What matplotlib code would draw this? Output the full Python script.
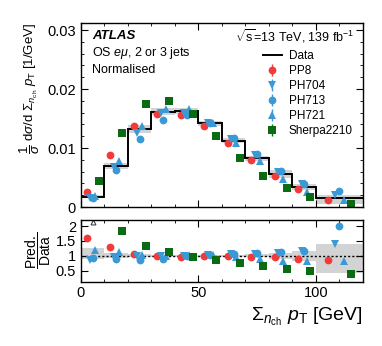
import numpy as np
import matplotlib
matplotlib.use("Agg")
import matplotlib.pyplot as plt
from matplotlib.ticker import MultipleLocator
from matplotlib.lines import Line2D

plt.rcParams['font.family'] = ['Liberation Sans', 'DejaVu Sans']
plt.rcParams['mathtext.fontset'] = 'custom'
plt.rcParams['mathtext.rm'] = 'Liberation Sans'
plt.rcParams['mathtext.it'] = 'Liberation Sans:italic'

# bin edges [GeV]
edges = np.array([0, 10, 20, 30, 40, 50, 60, 70, 80, 90, 100, 120])

# normalised cross-section, data
data = [0.00162, 0.00695, 0.01317, 0.01618, 0.01627, 0.01418, 0.01124,
        0.00825, 0.00567, 0.00342, 0.00145]
# relative uncertainty band (up, down)
band_up = [0.25, 0.08, 0.05, 0.04, 0.03, 0.03, 0.04, 0.05, 0.10, 0.15, 0.40]
band_dn = [0.10, 0.07, 0.05, 0.04, 0.03, 0.03, 0.04, 0.05, 0.12, 0.17, 0.59]

# predictions
pp8 = [0.00246, 0.0089, 0.01378, 0.01585, 0.0156, 0.01373, 0.0109,
       0.00797, 0.00525, 0.00305, 0.00119]
ph704 = [0.00147, 0.00672, 0.0126, 0.0160, 0.01588, 0.01418, 0.01147,
         0.0088, 0.0060, 0.00384, 0.00203]
ph713 = [0.0015, 0.00627, 0.01147, 0.01475, 0.0156, 0.0143, 0.01164,
         0.0090, 0.0061, 0.0039, 0.00277]
ph721 = [0.00183, 0.0078, 0.01373, 0.01655, 0.01665, 0.01429, 0.0109,
         0.0078, 0.0047, 0.0026, 0.00119]
sherpa = [0.00443, 0.0126, 0.0174, 0.0179, 0.0157, 0.0121, 0.00836,
          0.0053, 0.00316, 0.00164, 0.0005]

# ratios pred / data
pp8_r = [1.60, 1.28, 1.06, 0.99, 0.97, 0.98, 0.99, 0.97, 0.94, 0.90, 0.84]
ph704_r = [0.87, 0.95, 0.98, 0.98, 1.00, 1.01, 1.05, 1.07, 1.10, 1.15, 1.40]
ph713_r = [0.92, 0.90, 0.87, 0.90, 1.00, 1.01, 1.06, 1.08, 1.11, 1.17, 2.00]
ph721_r = [1.20, 1.12, 1.02, 1.00, 1.02, 1.01, 0.96, 0.89, 0.83, 0.81, 0.81]
sherpa_r = [np.nan, 1.83, 1.34, 1.11, 0.97, 0.86, 0.75, 0.64, 0.56, 0.49, 0.39]
# off-scale indicator
offscale_x = [5.0]
offscale_y = [2.12]

samples = [
    ("PP8", pp8, pp8_r, "o", "#f23a3a", 0.25, 5.6),
    ("PH704", ph704, ph704_r, "v", "#3b9ad6", 0.40, 5.6),
    ("PH713", ph713, ph713_r, "o", "#3b9ad6", 0.50, 5.6),
    ("PH721", ph721, ph721_r, "^", "#3b9ad6", 0.60, 5.6),
    ("Sherpa2210", sherpa, sherpa_r, "s", "#0b6b12", 0.75, 5.2),
]

left = edges[:-1]
width = np.diff(edges)
data = np.array(data)
band_up = np.array(band_up)
band_dn = np.array(band_dn)

fig = plt.figure(figsize=(3.82, 3.46), dpi=100)
ax = fig.add_axes([0.212, 0.4017, 0.738, 0.532])
rax = fig.add_axes([0.212, 0.1864, 0.738, 0.1792], sharex=ax)

# main panel
ax.stairs(data * (1 + band_up), edges, baseline=data * (1 - band_dn),
          fill=True, color="#d3d3d3", lw=0)
ax.stairs(data, edges, color="black", lw=1.4, baseline=None)
handles = [Line2D([], [], color="black", lw=1.4, label="Data")]
for name, vals, rvals, mk, col, frac, ms in samples:
    x = left + frac * width
    h = ax.errorbar(x, vals, yerr=np.zeros(len(vals)), fmt=mk, color=col,
                    ms=ms, mew=0, elinewidth=1.0, capsize=0, label=name)
    rax.errorbar(x, rvals, yerr=np.zeros(len(rvals)), fmt=mk, color=col,
                 ms=ms, mew=0, elinewidth=1.0, capsize=0)
    handles.append(h)

ax.set_ylim(0, 0.0312)
ax.set_xlim(0, 120)
ax.yaxis.set_minor_locator(MultipleLocator(0.002))
ax.set_yticks([0, 0.01, 0.02, 0.03])
ax.set_yticklabels(["0", "0.01", "0.02", "0.03"])
ax.tick_params(labelbottom=False)
ax.set_ylabel(r"$\dfrac{1}{\sigma}$ d$\sigma$/d $\Sigma_{n_{\rm ch}}$ $p_{\rm T}$ [1/GeV]",
              fontsize=9.5, labelpad=4, loc="top")

ax.legend(handles=handles, loc="upper right", bbox_to_anchor=(0.99, 0.89),
          frameon=False, fontsize=8.5, handlelength=1.6, handletextpad=0.6,
          labelspacing=0.25, borderaxespad=0.2)

ax.text(0.04, 0.93, "ATLAS", transform=ax.transAxes, fontsize=9.5,
        fontweight="bold", fontstyle="italic", va="center")
ax.text(0.04, 0.835, r"OS $e\mu$, 2 or 3 jets", transform=ax.transAxes,
        fontsize=9, va="center")
ax.text(0.04, 0.745, "Normalised", transform=ax.transAxes, fontsize=9,
        va="center")
ax.text(0.97, 0.93, r"$\sqrt{\rm s}$=13 TeV, 139 fb$^{-1}$",
        transform=ax.transAxes, fontsize=9, ha="right", va="center")

# ratio panel
rax.stairs(1 + band_up, edges, baseline=1 - band_dn, fill=True,
           color="#d3d3d3", lw=0)
rax.axhline(1, color="black", ls=(0, (1.5, 1.5)), lw=1.0)
rax.plot(offscale_x, offscale_y, "^", mfc="white", mec="#444444", ms=3.5,
         mew=0.8)
rax.set_ylim(0.13, 2.22)
rax.set_yticks([0.5, 1, 1.5, 2])
rax.set_yticklabels(["0.5", "1", "1.5", "2"])
rax.set_ylabel(r"$\dfrac{\rm Pred.}{\rm Data}$", fontsize=10, labelpad=2)
rax.set_xlabel(r"$\Sigma_{n_{\rm ch}}$ $p_{\rm T}$ [GeV]", fontsize=14,
               loc="right", labelpad=4)
rax.xaxis.set_major_locator(MultipleLocator(50))
rax.xaxis.set_minor_locator(MultipleLocator(10))

for a in (ax, rax):
    a.tick_params(which="both", direction="in", top=True, right=True,
                  labelsize=10.5)
    a.tick_params(which="major", length=5)
    a.tick_params(which="minor", length=2.5)
    for s in a.spines.values():
        s.set_linewidth(1.0)
rax.tick_params(axis="y", which="minor", left=False, right=False)

fig.savefig("out.png", dpi=100)
